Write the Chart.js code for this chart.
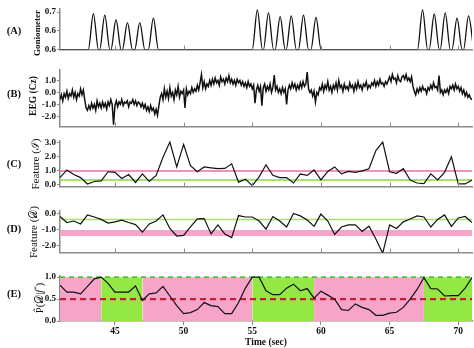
<!DOCTYPE html>
<html>
<head>
<meta charset="utf-8">
<script src="https://cdn.jsdelivr.net/npm/chart.js@4.4.1/dist/chart.umd.min.js"></script>
<style>
  body { margin: 0; background: #fff; }
  #wrap { position: relative; width: 474px; height: 348px; overflow: hidden; font-family: 'Liberation Serif', serif; }
  canvas { position: absolute; left: 0; }
  .lab { position: absolute; transform: translate(-50%, -50%); font-weight: bold; font-size: 10.5px; color: #111; white-space: nowrap; }
  .ttl { position: absolute; transform: translate(-50%, -50%) rotate(-90deg); color: #111; white-space: nowrap; }
</style>
</head>
<body>
<div id="wrap">
  <canvas id="panelA" width="474" height="54" style="top:2px"></canvas>
  <canvas id="panelB" width="474" height="70" style="top:63px"></canvas>
  <canvas id="panelC" width="474" height="59" style="top:134px"></canvas>
  <canvas id="panelD" width="474" height="55" style="top:204px"></canvas>
  <canvas id="panelE" width="474" height="79" style="top:269px"></canvas>

  <div class="lab" style="left:14px;top:30px">(A)</div>
  <div class="lab" style="left:14px;top:93px">(B)</div>
  <div class="lab" style="left:14px;top:163px">(C)</div>
  <div class="lab" style="left:14px;top:228px">(D)</div>
  <div class="lab" style="left:14px;top:293px">(E)</div>

  <div class="ttl" style="left:37px;top:33px;font-weight:bold;font-size:9px">Goniometer</div>
  <div class="ttl" style="left:33px;top:96px;font-weight:bold;font-size:9.5px">EEG (Cz)</div>
  <div class="ttl" style="left:34px;top:164px;font-size:11px">Feature (ℐ)</div>
  <div class="ttl" style="left:33px;top:232px;font-size:11px">Feature (𝒟)</div>
  <div class="ttl" style="left:39px;top:298px;font-size:10.5px">P̂(𝒟|<i>f</i><sup style="font-size:7px">*</sup>)</div>
</div>

<script>
// ---- time axis ----
const timeMin = 41;
const timeMax = 71;
const timeTicks = [45, 50, 55, 60, 65, 70];

// ---- (A) goniometer: baseline / peak / baseline per movement ----
const gonioTime = [41,
  43.06, 43.43, 43.80, 43.89, 44.26, 44.63, 44.71, 45.08, 45.45,
  45.54, 45.91, 46.28, 46.44, 46.81, 47.18, 47.43, 47.80, 48.17,
  55.00, 55.37, 55.74, 55.81, 56.18, 56.55, 56.66, 57.03, 57.40,
  57.47, 57.84, 58.21, 58.36, 58.73, 59.10, 59.27, 59.64, 60.01,
  67.03, 67.40, 67.77, 67.88, 68.25, 68.62, 68.68, 69.05, 69.42,
  69.54, 69.91, 70.28, 70.38, 70.75, 71.12];
const gonioValue = [0.6,
  0.6, 0.696, 0.6, 0.6, 0.692, 0.6, 0.6, 0.680, 0.6,
  0.6, 0.672, 0.6, 0.6, 0.672, 0.6, 0.6, 0.684, 0.6,
  0.6, 0.706, 0.6, 0.6, 0.698, 0.6, 0.6, 0.688, 0.6,
  0.6, 0.690, 0.6, 0.6, 0.692, 0.6, 0.6, 0.686, 0.6,
  0.6, 0.706, 0.6, 0.6, 0.695, 0.6, 0.6, 0.698, 0.6,
  0.6, 0.684, 0.6, 0.6, 0.690, 0.6];
const gonioTickValues = [0.6, 0.65, 0.7];
const gonioTickLabels = ['0.6', '0.6', '0.7'];

// ---- (B) EEG, 10 samples per second from 41.0 to 71.0 ----
const eegStep = 0.1;
const eegValue = [
  -0.6,-0.2,-0.7,-0.1,-0.4,0.1,-0.5,-0.1,-0.3,0.2,
  -0.4,0.0,-0.6,-0.1,-0.3,0.3,-0.2,0.2,-0.6,-1.3,
  -1.5,-1.1,-1.4,-0.9,-1.3,-1.0,-1.5,-0.7,-1.2,-0.9,
  -1.3,-0.8,-1.2,-0.9,-1.4,-0.8,-1.1,-0.6,-1.0,-2.7,
  -1.1,-0.7,-1.2,-0.8,-1.0,-0.6,-1.1,-0.8,-0.9,-0.7,
  -1.2,-0.8,-0.9,-0.6,-1.0,-0.7,-1.1,-0.8,-0.9,-1.2,
  -0.9,-1.3,-1.0,-1.5,-1.2,-1.6,-1.1,-1.5,-1.3,-1.8,
  -1.4,-1.9,-1.1,-0.4,-0.1,-0.6,0.3,-0.4,0.1,-0.5,
  0.4,-0.3,0.0,-0.6,0.2,-0.2,0.5,-0.4,0.1,-0.1,
  0.2,-1.3,0.3,-0.2,0.1,-0.1,0.4,0.0,0.3,0.1,
  0.6,0.2,0.8,1.5,0.4,0.9,0.3,0.7,0.5,1.0,
  0.6,1.1,0.7,1.2,0.8,1.0,0.6,1.3,0.9,1.1,
  0.7,1.2,0.9,1.4,0.8,1.1,0.7,1.0,0.6,1.1,
  0.8,1.0,0.6,0.9,0.5,0.8,0.4,0.9,0.5,0.7,
  0.3,0.6,-0.9,0.2,0.6,0.1,0.5,-1.1,0.4,0.7,
  0.1,0.5,0.2,0.7,0.0,0.4,1.45,0.2,0.5,0.0,
  0.3,-0.1,0.4,0.0,0.3,-1.0,0.2,0.6,0.3,0.8,
  0.4,0.7,0.2,0.6,0.3,0.8,0.4,0.9,0.5,0.7,
  1.7,0.3,0.0,0.2,-0.3,0.1,-0.8,0.0,-0.2,0.4,
  0.2,0.7,0.1,0.6,0.3,0.9,0.2,0.5,0.0,0.6,
  0.3,0.8,0.2,1.0,0.4,0.6,0.1,0.7,0.3,0.5,
  0.2,0.8,0.4,0.6,0.1,0.7,0.3,0.9,0.4,0.6,
  0.2,0.7,0.5,0.9,0.3,0.6,0.4,0.8,0.6,1.0,
  0.5,0.9,0.6,1.1,0.7,0.8,0.5,0.9,0.7,1.0,
  1.3,0.9,1.5,1.1,1.2,0.8,1.4,1.0,0.9,1.3,
  1.4,1.1,1.5,1.0,1.2,0.9,1.3,0.5,0.1,-0.2,
  0.3,0.0,0.4,0.1,0.5,0.2,0.3,-0.1,0.4,0.2,
  0.6,0.3,0.8,0.4,0.5,0.2,1.4,0.0,0.2,-0.2,
  0.2,0.0,0.3,-0.1,0.5,0.3,0.6,0.2,0.7,0.3,
  0.5,0.1,0.4,-0.1,0.2,-0.3,0.0,-0.4,-0.2,-0.5,
  -0.6];
const eegTickValues = [-2, -1, 0, 1];
const eegTickLabels = ['-2.0', '-1.0', '0.0', '1.0'];

// ---- (C)(D)(E) features, one value every 0.5 s from 41 to 71 ----
const featureStep = 0.5;
const featureI = [
  0.5,1.05,0.72,0.5,0.04,0.22,0.26,0.92,0.88,0.44,
  0.72,0.15,0.77,0.22,0.66,1.97,3.06,1.27,2.89,1.36,
  0.92,1.27,1.2,1.14,1.16,1.49,0.17,0.39,-0.08,0.55,
  1.42,0.66,0.5,0.5,0.11,0.77,0.66,1.05,0.33,0.94,
  1.27,0.77,0.94,0.88,0.98,1.14,2.45,3.06,0.92,0.81,
  1.14,0.33,0.11,0.07,0.77,0.33,0.88,2.0,0.04,0.04,
  0.33];
const featureITickValues = [0, 1, 2, 3];
const featureITickLabels = ['0.0', '1.0', '2.0', '3.0'];
const featureIPinkLevel = 0.97;
const featureIGreenLevel = 0.33;

const featureD = [
  -0.19,-0.56,-0.47,-0.65,-0.09,-0.22,-0.37,-0.6,-0.52,-0.41,
  -0.56,-0.69,-1.16,-0.65,-0.47,-0.09,-0.93,-1.4,-1.36,-0.84,
  -0.34,-0.32,-1.27,-0.71,-1.27,-1.5,-0.13,-0.22,-0.22,-0.47,
  -0.97,-0.19,-0.47,-0.84,0.0,-0.15,-0.41,-0.8,-0.04,-0.47,
  -1.3,-0.84,-0.71,-0.71,-1.12,-0.79,-1.59,-2.47,-0.71,-0.93,
  -0.52,-0.34,-0.15,-0.22,-0.84,-0.37,-0.09,-0.8,-0.28,-0.19,
  -0.56];
const featureDTickValues = [-2, -1, 0];
const featureDTickLabels = ['-2.0', '-1.0', '0.0'];
const featureDGreenLevel = -0.37;
const featureDPinkBand = [-1.03, -1.4];

const posterior = [
  0.82,0.66,0.66,0.62,0.79,0.96,1.0,0.86,0.66,0.66,
  0.66,0.8,0.47,0.62,0.64,0.79,0.57,0.35,0.17,0.19,
  0.26,0.42,0.35,0.33,0.17,0.17,0.42,0.75,1.0,1.0,
  0.69,0.6,0.6,0.75,0.84,0.69,0.74,0.52,0.68,0.59,
  0.5,0.26,0.24,0.39,0.31,0.26,0.13,0.13,0.18,0.2,
  0.31,0.5,0.72,0.99,0.74,0.73,0.57,0.58,0.58,0.75,
  0.99];
const posteriorTickValues = [0, 0.5, 1];
const posteriorTickLabels = ['0.0', '0.5', '1.0'];
const regionStart = [41, 44, 47, 55, 59.5, 67.5];
const regionEnd   = [44, 47, 55, 59.5, 67.5, 71];
const regionKind  = ['pink', 'green', 'pink', 'green', 'pink', 'green'];

// ---- colours ----
const AXIS = '#8a8a8a';
const LINE = '#111';
const PINK_FILL = '#f6a5c9';
const GREEN_FILL = '#93e843';
const PINK_LINE = '#f291bd';
const GREEN_LINE = '#a6e36b';

Chart.defaults.font.family = "'Liberation Serif', serif";

const innerTicks = {
  id: 'innerTicks',
  afterDraw(chart, args, opts) {
    if (!opts.on) return;
    const { ctx, chartArea, scales } = chart;
    ctx.save();
    ctx.strokeStyle = AXIS;
    ctx.lineWidth = 1;
    timeTicks.forEach(v => {
      const px = Math.round(scales.x.getPixelForValue(v)) + 0.5;
      ctx.beginPath();
      ctx.moveTo(px, chartArea.bottom);
      ctx.lineTo(px, chartArea.bottom - 4);
      ctx.stroke();
    });
    ctx.restore();
  }
};

const pts = (xs, ys) => ys.map((y, i) => ({ x: xs[i], y }));
const stepPts = (start, step, ys) => ys.map((y, i) => ({ x: start + i * step, y }));
const hline = (y, color, width, dash) => ({
  data: [{ x: timeMin, y }, { x: timeMax, y }],
  borderColor: color, borderWidth: width, borderDash: dash || [], pointRadius: 0
});

function makePanel(id, datasets, yMin, yMax, yTickValues, yTickLabels, bottom) {
  const ctx = document.getElementById(id).getContext('2d');
  return new Chart(ctx, {
    type: 'line',
    data: { datasets },
    options: {
      responsive: false,
      animation: false,
      events: [],
      layout: { padding: { top: 4, right: 2, left: 0, bottom: 0 } },
      elements: { point: { radius: 0 } },
      plugins: { legend: { display: false }, tooltip: { enabled: false }, innerTicks: { on: !bottom } },
      scales: {
        x: {
          type: 'linear',
          min: timeMin,
          max: timeMax,
          afterBuildTicks: s => { s.ticks = timeTicks.map(v => ({ value: v })); },
          afterFit: s => { s.height = bottom ? 27 : 4; },
          border: { color: AXIS, width: 1.5 },
          grid: { drawOnChartArea: false, drawTicks: bottom, tickLength: 4, color: AXIS },
          ticks: { display: bottom, padding: 1, color: '#111', font: { size: 9.5, weight: 'bold' } },
          title: bottom ? { display: true, text: 'Time (sec)', color: '#111', padding: 0, font: { size: 9.5, weight: 'bold' } } : { display: false }
        },
        y: {
          min: yMin,
          max: yMax,
          afterBuildTicks: s => { s.ticks = yTickValues.map(v => ({ value: v })); },
          afterFit: s => { s.width = 60; },
          border: { color: AXIS, width: 1.5 },
          grid: { drawOnChartArea: false, tickLength: 3, color: AXIS },
          ticks: { padding: 1, color: '#111', font: { size: 9, weight: 'bold' }, callback: (v, i) => yTickLabels[i] }
        }
      }
    },
    plugins: [innerTicks]
  });
}

// (A)
makePanel('panelA', [{
  data: pts(gonioTime, gonioValue),
  borderColor: LINE, borderWidth: 1.3, cubicInterpolationMode: 'monotone'
}], 0.6, 0.71, gonioTickValues, gonioTickLabels, false);

// (B)
makePanel('panelB', [{
  data: stepPts(timeMin, eegStep, eegValue),
  borderColor: LINE, borderWidth: 1.5
}], -2.85, 1.92, eegTickValues, eegTickLabels, false);

// (C)
makePanel('panelC', [
  { data: stepPts(timeMin, featureStep, featureI), borderColor: LINE, borderWidth: 1.2 },
  hline(featureIPinkLevel, PINK_LINE, 2),
  hline(featureIGreenLevel, GREEN_LINE, 2)
], -0.15, 3.18, featureITickValues, featureITickLabels, false);

// (D)
makePanel('panelD', [
  { data: stepPts(timeMin, featureStep, featureD), borderColor: LINE, borderWidth: 1.2 },
  hline(featureDGreenLevel, GREEN_LINE, 1.5),
  {
    data: [{ x: timeMin, y: featureDPinkBand[0] }, { x: timeMax, y: featureDPinkBand[0] }],
    borderWidth: 0, pointRadius: 0,
    backgroundColor: PINK_FILL, fill: { value: featureDPinkBand[1] }
  }
], -2.43, 0.19, featureDTickValues, featureDTickLabels, false);

// (E)
const regionSets = regionStart.map((s, i) => ({
  data: [{ x: s, y: 1 }, { x: regionEnd[i], y: 1 }],
  borderWidth: 0, pointRadius: 0,
  backgroundColor: regionKind[i] === 'pink' ? PINK_FILL : GREEN_FILL,
  fill: 'origin'
}));
makePanel('panelE', [
  { data: stepPts(timeMin, featureStep, posterior), borderColor: LINE, borderWidth: 1.2 },
  hline(0.5, '#cc1a3a', 2.2, [6, 4]),
  hline(1.0, '#4cc23a', 1.8, [5, 4]),
  ...regionSets
], 0, 1.04, posteriorTickValues, posteriorTickLabels, true);
</script>
</body>
</html>
